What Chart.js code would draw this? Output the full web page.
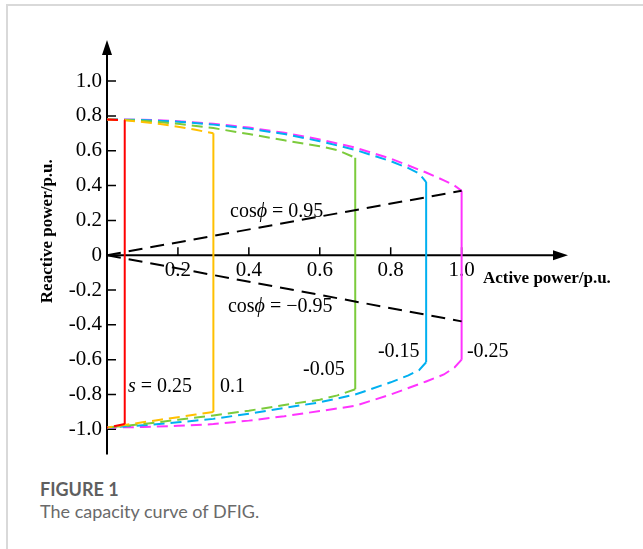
<!DOCTYPE html>
<html>
<head>
<meta charset="utf-8">
<script src="https://cdn.jsdelivr.net/npm/chart.js@4"></script>
<style>
  html, body { margin: 0; padding: 0; background: #fff; }
  body { width: 643px; height: 549px; position: relative; overflow: hidden; }
  .frame { position: absolute; left: 6px; top: 4px; right: -2px; bottom: -2px;
           border-top: 2px solid #d9d9d9; border-left: 2px solid #d9d9d9; }
  #chartBox { position: absolute; left: 0; top: 0; width: 643px; height: 472px; }
  .caption { position: absolute; left: 40px; top: 478px; font-family: Lato, "Open Sans", sans-serif;
             font-size: 18px; line-height: 22px; color: #6a6a6a; }
  .caption b { font-weight: 700; color: #5f5f5f; }
</style>
</head>
<body>
<div class="frame"></div>
<div id="chartBox"><canvas id="capacityChart" width="643" height="472"></canvas></div>
<div class="caption"><b>FIGURE 1</b><br>The capacity curve of DFIG.</div>

<script>
// values, p.u.
const xTicks = [0.2, 0.4, 0.6, 0.8, 1.0];
const yTicks = [-1.0, -0.8, -0.6, -0.4, -0.2, 0, 0.2, 0.4, 0.6, 0.8, 1.0];

// slip s = 0.25
const s025P = [0, 0.05, 0.05, 0];
const s025Q = [0.78, 0.775, -0.97, -0.99];
// slip s = 0.1
const s01P = [0, 0.05, 0.1, 0.15, 0.2, 0.25, 0.3, 0.3, 0.25, 0.2, 0.15, 0.1, 0.05, 0];
const s01Q = [0.78, 0.775, 0.765, 0.753, 0.738, 0.72, 0.70, -0.90, -0.915, -0.93, -0.945, -0.96, -0.975, -0.99];
// slip s = -0.05
const sm005P = [0, 0.1, 0.2, 0.3, 0.4, 0.5, 0.6, 0.65, 0.7, 0.7, 0.65, 0.6, 0.5, 0.4, 0.3, 0.2, 0.1, 0];
const sm005Q = [0.78, 0.772, 0.755, 0.73, 0.696, 0.66, 0.626, 0.603, 0.56, -0.77, -0.805, -0.83, -0.86, -0.893, -0.92, -0.945, -0.97, -0.99];
// slip s = -0.15
const sm015P = [0, 0.1, 0.2, 0.3, 0.4, 0.5, 0.6, 0.7, 0.8, 0.85, 0.88, 0.9, 0.9, 0.88, 0.85, 0.8, 0.7, 0.6, 0.5, 0.4, 0.3, 0.2, 0.1, 0];
const sm015Q = [0.78, 0.777, 0.767, 0.75, 0.727, 0.696, 0.655, 0.605, 0.54, 0.50, 0.47, 0.42, -0.615, -0.66, -0.69, -0.73, -0.80, -0.845, -0.877, -0.91, -0.94, -0.96, -0.977, -0.99];
// slip s = -0.25
const sm025P = [0, 0.1, 0.2, 0.3, 0.4, 0.5, 0.6, 0.7, 0.8, 0.9, 0.95, 0.98, 1.0, 1.0, 0.98, 0.95, 0.9, 0.8, 0.7, 0.6, 0.5, 0.4, 0.3, 0.2, 0.1, 0];
const sm025Q = [0.78, 0.778, 0.77, 0.755, 0.733, 0.703, 0.665, 0.618, 0.555, 0.475, 0.43, 0.40, 0.37, -0.60, -0.645, -0.685, -0.725, -0.80, -0.865, -0.895, -0.925, -0.95, -0.97, -0.98, -0.987, -0.99];

// power factor lines
const pfP = [0, 1.0];
const pfLeadQ = [0, 0.37];
const pfLagQ = [0, -0.38];

const serif = '"Liberation Serif", "Times New Roman", serif';

function zip(px, qy) {
    return px.map((p, i) => ({ x: p, y: qy[i] }));
}

// vertical pieces are solid, arcs are dashed
function slipCurve(px, qy, color) {
    return {
        data: zip(px, qy),
        borderColor: color,
        borderWidth: 2,
        pointRadius: 0,
        fill: false,
        tension: 0,
        segment: {
            borderDash: ctx => ctx.p0.parsed.x === ctx.p1.parsed.x ? [] : [11, 6]
        }
    };
}

function pfLine(qy) {
    return {
        data: zip(pfP, qy),
        borderColor: '#000',
        borderWidth: 2,
        borderDash: [14, 8],
        pointRadius: 0,
        fill: false
    };
}

// text notes, anchored at left/baseline in data units
const notes = [
    { p: 0.347, q: 0.222, parts: [['cos', ''], ['\u03D5', 'italic '], [' = 0.95', '']] },
    { p: 0.341, q: -0.328, parts: [['cos', ''], ['\u03D5', 'italic '], [' = \u22120.95', '']] },
    { p: 0.059, q: -0.787, parts: [['s', 'italic '], [' = 0.25', '']] },
    { p: 0.319, q: -0.787, parts: [['0.1', '']] },
    { p: 0.553, q: -0.69, parts: [['-0.05', '']] },
    { p: 0.764, q: -0.586, parts: [['-0.15', '']] },
    { p: 1.015, q: -0.586, parts: [['-0.25', '']] }
];

const axisArt = {
    id: 'axisArt',
    beforeDatasetsDraw(chart) {
        const ctx = chart.ctx;
        const area = chart.chartArea;
        const xs = chart.scales.x, ys = chart.scales.y;
        const x0 = xs.getPixelForValue(0), y0 = ys.getPixelForValue(0);
        ctx.save();
        ctx.strokeStyle = '#000';
        ctx.lineWidth = 2;
        ctx.beginPath();
        ctx.moveTo(x0, area.bottom);
        ctx.lineTo(x0, area.top + 10);
        ctx.moveTo(x0, y0);
        ctx.lineTo(area.right - 10, y0);
        ctx.stroke();

        ctx.lineWidth = 1.5;
        ctx.beginPath();
        yTicks.forEach(v => {
            if (v === 0) return;
            const py = ys.getPixelForValue(v);
            ctx.moveTo(x0, py);
            ctx.lineTo(x0 + 9, py);
        });
        xTicks.forEach(v => {
            const px = xs.getPixelForValue(v);
            ctx.moveTo(px, y0);
            ctx.lineTo(px, y0 - 8);
        });
        ctx.stroke();

        // arrow heads
        ctx.fillStyle = '#000';
        ctx.beginPath();
        ctx.moveTo(x0, area.top);
        ctx.lineTo(x0 - 5, area.top + 15);
        ctx.lineTo(x0 + 5, area.top + 15);
        ctx.closePath();
        ctx.fill();
        ctx.beginPath();
        ctx.moveTo(area.right, y0);
        ctx.lineTo(area.right - 15, y0 - 5);
        ctx.lineTo(area.right - 15, y0 + 5);
        ctx.closePath();
        ctx.fill();
        ctx.restore();
    },
    afterDatasetsDraw(chart) {
        const ctx = chart.ctx;
        const xs = chart.scales.x, ys = chart.scales.y;
        ctx.save();
        ctx.fillStyle = '#000';
        ctx.textBaseline = 'alphabetic';
        ctx.textAlign = 'left';
        notes.forEach(n => {
            let x = xs.getPixelForValue(n.p);
            const y = ys.getPixelForValue(n.q);
            n.parts.forEach(([txt, style]) => {
                ctx.font = style + '20px ' + serif;
                ctx.fillText(txt, x, y);
                x += ctx.measureText(txt).width;
            });
        });

        // axis titles
        ctx.font = 'bold 17px ' + serif;
        ctx.fillText('Active power/p.u.', xs.getPixelForValue(1.06), ys.getPixelForValue(-0.161));
        ctx.translate(48, ys.getPixelForValue(0.138));
        ctx.rotate(-Math.PI / 2);
        ctx.textAlign = 'center';
        ctx.textBaseline = 'middle';
        ctx.fillText('Reactive power/p.u.', 0, 0);
        ctx.restore();
    }
};

const fmt = v => v === 0 ? '0' : v.toFixed(1);

new Chart(document.getElementById('capacityChart'), {
    type: 'line',
    data: {
        datasets: [
            pfLine(pfLeadQ),
            pfLine(pfLagQ),
            slipCurve(s025P, s025Q, '#ff0000'),
            slipCurve(s01P, s01Q, '#ffc000'),
            slipCurve(sm005P, sm005Q, '#7ccb3c'),
            slipCurve(sm015P, sm015Q, '#00b0f0'),
            slipCurve(sm025P, sm025Q, '#ff33ff')
        ]
    },
    options: {
        responsive: false,
        animation: false,
        layout: { padding: { left: 57, top: 40, right: 75, bottom: 8 } },
        plugins: { legend: { display: false }, tooltip: { enabled: false } },
        scales: {
            x: {
                type: 'linear',
                position: { y: 0 },
                min: 0,
                max: 1.3,
                grid: { display: false, drawTicks: false },
                border: { display: false },
                afterBuildTicks: axis => { axis.ticks = xTicks.map(v => ({ value: v })); },
                ticks: {
                    padding: 3,
                    color: '#000',
                    font: { family: serif, size: 21 },
                    maxRotation: 0,
                    autoSkip: false,
                    callback: fmt
                }
            },
            y: {
                type: 'linear',
                position: 'left',
                min: -1.144,
                max: 1.236,
                afterFit: scale => { scale.width = 50; },
                grid: { display: false, drawTicks: false },
                border: { display: false },
                afterBuildTicks: axis => { axis.ticks = yTicks.map(v => ({ value: v })); },
                ticks: {
                    padding: 5,
                    color: '#000',
                    font: { family: serif, size: 21 },
                    autoSkip: false,
                    callback: fmt
                }
            }
        }
    },
    plugins: [axisArt]
});
</script>
</body>
</html>
